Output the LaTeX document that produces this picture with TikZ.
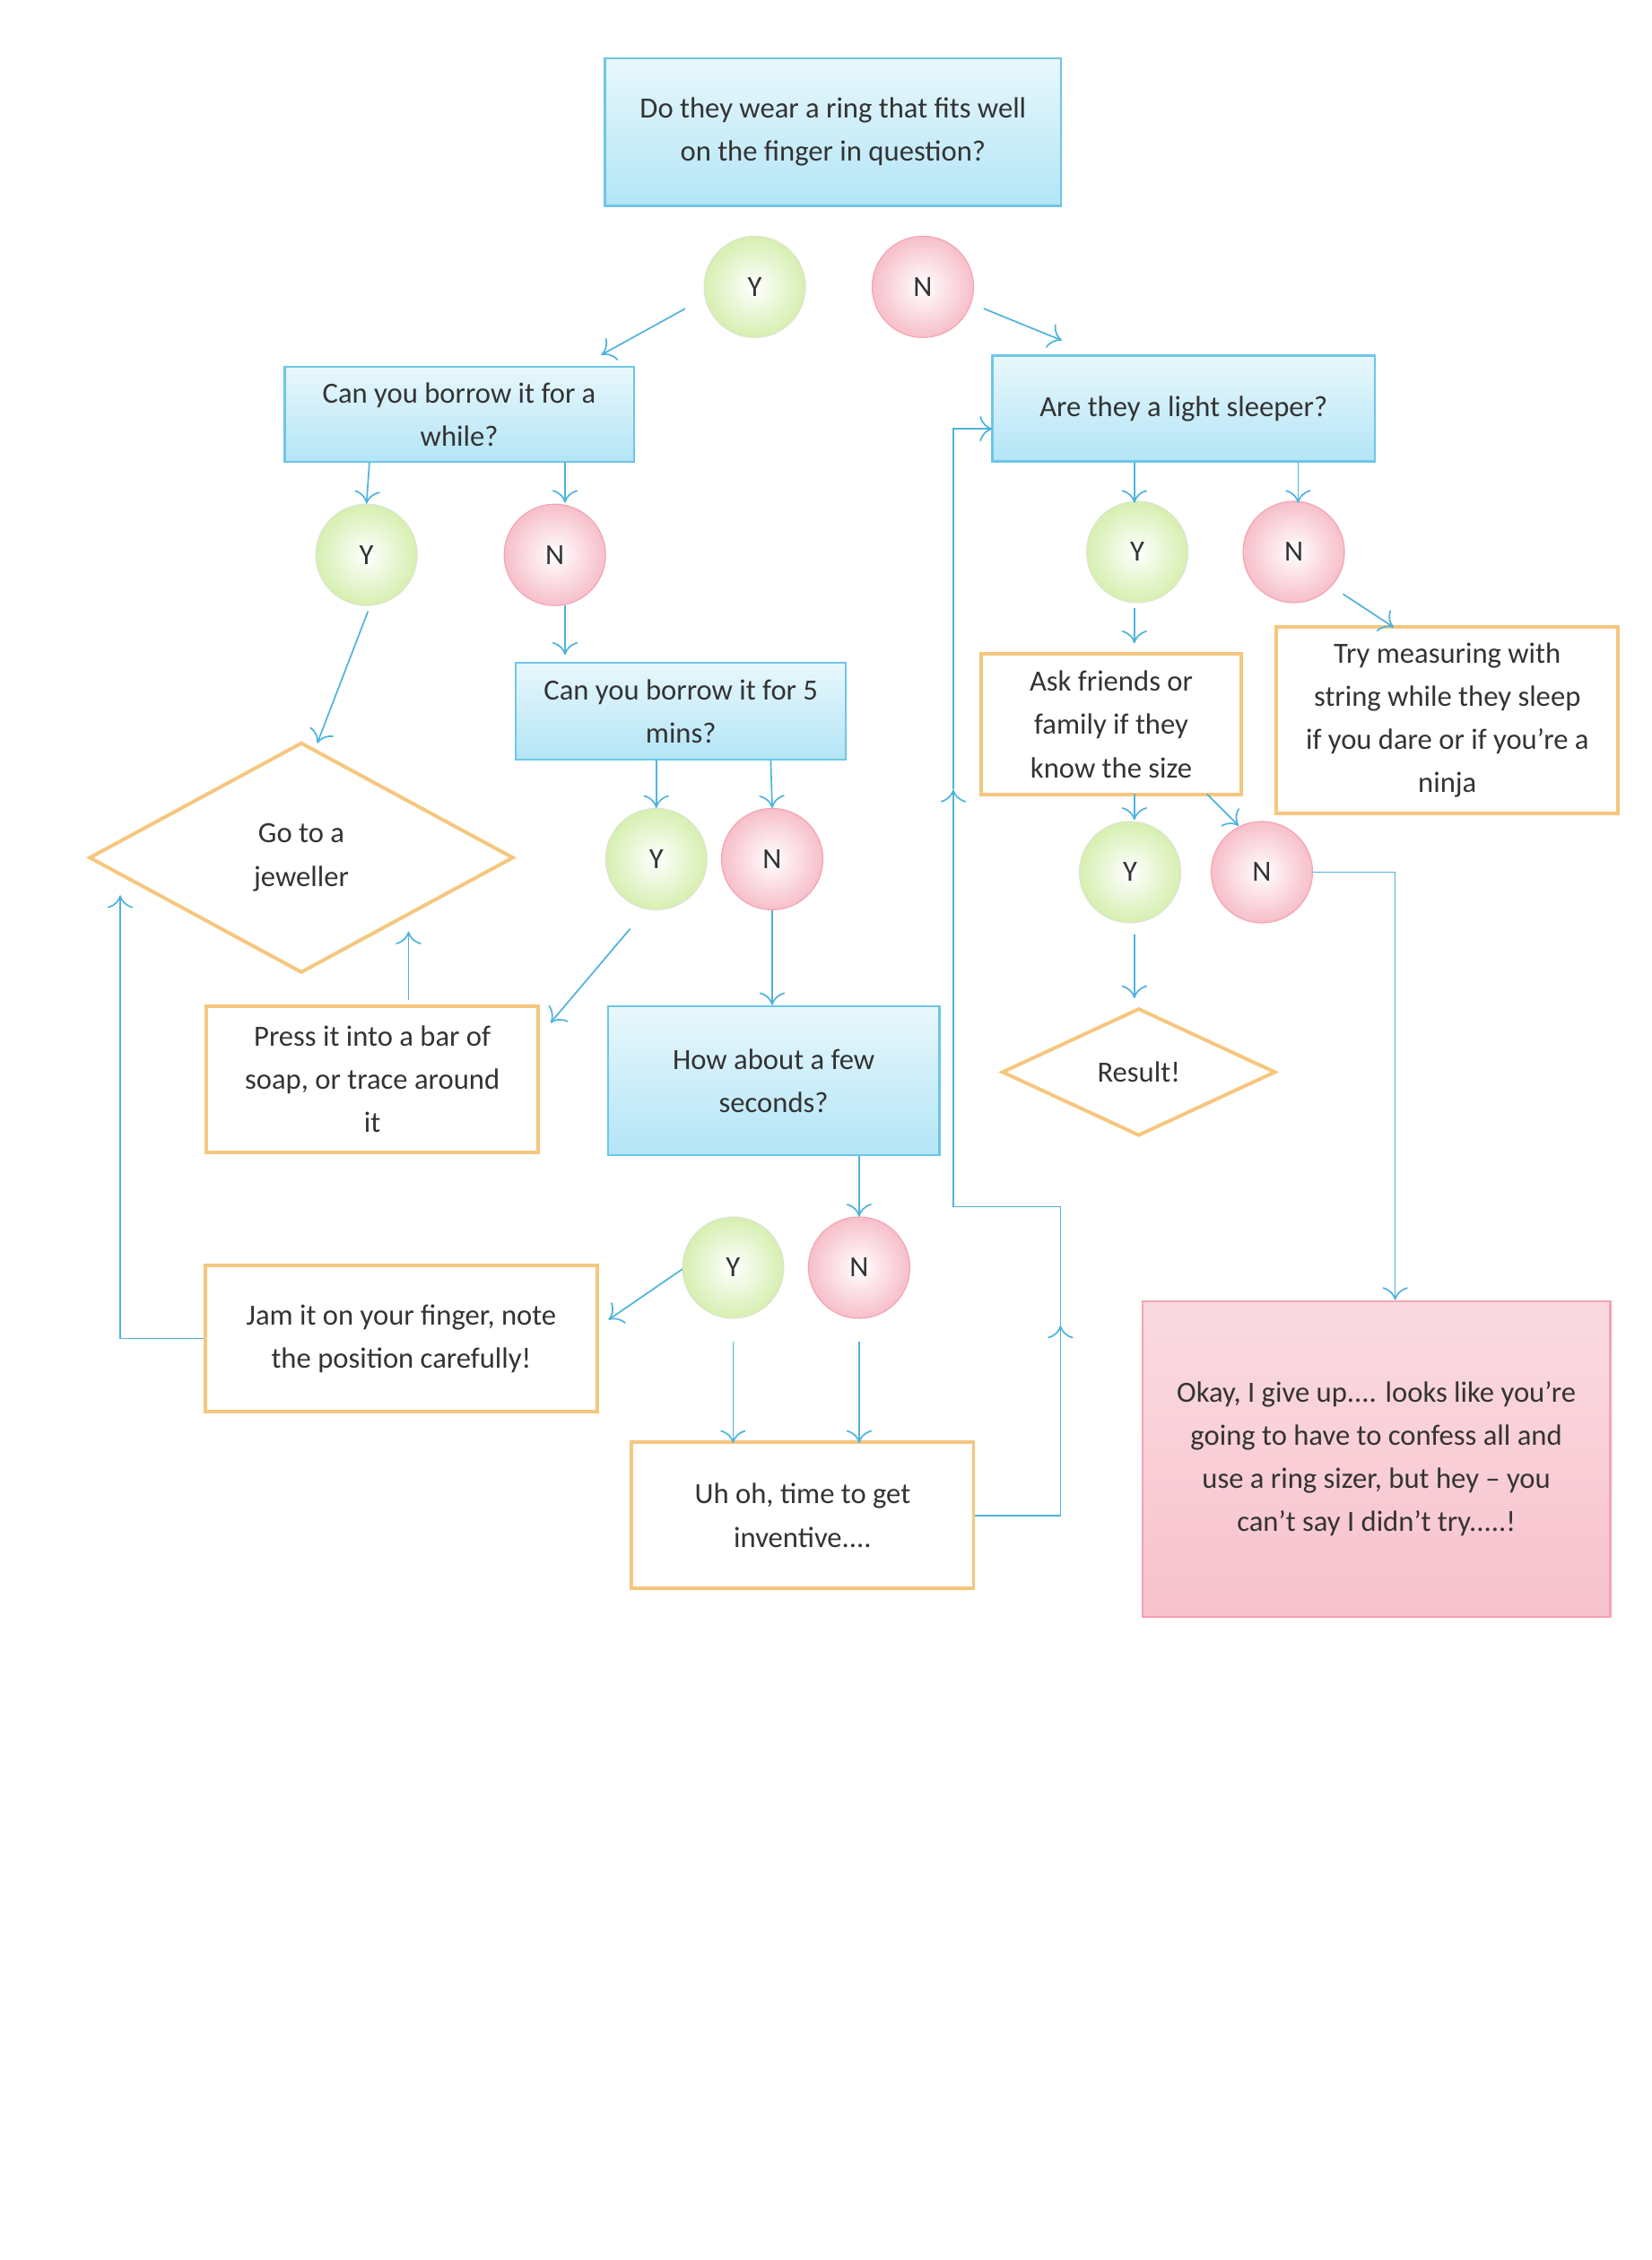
\documentclass[tikz,border=0pt]{standalone}
\usepackage{fontspec}
\setmainfont{Carlito}
\usetikzlibrary{shapes.geometric,arrows.meta}
\definecolor{lineblue}{HTML}{4FB3DD}
\definecolor{boxblue}{HTML}{B3E5F6}
\definecolor{edgeblue}{HTML}{6EC6E8}
\definecolor{boxorange}{HTML}{F5C77E}
\definecolor{yesgreen}{HTML}{D6EFB0}
\definecolor{nored}{HTML}{F3A3B3}
\definecolor{okpink}{HTML}{F7C2CD}
\definecolor{inkgray}{HTML}{333333}
\tikzset{
  bluebox/.style={draw=edgeblue,thick,top color=white!70!boxblue,bottom color=boxblue,align=center,text=inkgray,font=\fontsize{11.5}{17}\selectfont},
  orangebox/.style={draw=boxorange,line width=1.4pt,fill=white,align=center,text=inkgray,font=\fontsize{11.5}{17}\selectfont},
  pinkbox/.style={draw=nored,thick,top color=white!40!okpink,bottom color=okpink,align=center,text=inkgray,font=\fontsize{11.5}{17}\selectfont},
  yes/.style={circle,draw=yesgreen!80!black!40,minimum size=1.4cm,inner color=white,outer color=yesgreen,text=inkgray,font=\fontsize{11.5}{14}\selectfont},
  no/.style={circle,draw=nored,minimum size=1.4cm,inner color=white,outer color=nored!70,text=inkgray,font=\fontsize{11.5}{14}\selectfont},
  jewel/.style={diamond,draw=boxorange,line width=1.4pt,aspect=1.85,align=center,text=inkgray,font=\fontsize{11.5}{17}\selectfont},
  flow/.style={-{To[length=5pt,width=10pt]},lineblue,semithick}
}
\begin{document}
\begin{tikzpicture}[x=0.02cm,y=-0.02cm]
\useasboundingbox (0,0) rectangle (1140,1560);
\fill[white] (0,0) rectangle (1140,1560);
% questions
\node[bluebox,minimum width=6.3cm,minimum height=2.04cm] (ring) at (575,91) {Do they wear a ring that fits well\\on the finger in question?};
\node[bluebox,minimum width=4.82cm,minimum height=1.32cm] (borrow) at (317,286) {Can you borrow it for a\\while?};
\node[bluebox,minimum width=5.28cm,minimum height=1.46cm] (sleeper) at (817,282) {Are they a light sleeper?};
\node[bluebox,minimum width=4.56cm,minimum height=1.34cm] (five) at (470,491) {Can you borrow it for 5\\mins?};
\node[bluebox,minimum width=4.58cm,minimum height=2.06cm] (seconds) at (534,746) {How about a few\\seconds?};
% answers
\node[yes] (y1) at (521,198) {Y};
\node[no] (n1) at (637,198) {N};
\node[yes] (y2) at (253,383) {Y};
\node[no] (n2) at (383,383) {N};
\node[yes] (y3) at (453,593) {Y};
\node[no] (n3) at (533,593) {N};
\node[yes] (y4) at (506,875) {Y};
\node[no] (n4) at (593,875) {N};
\node[yes] (y5) at (785,381) {Y};
\node[no] (n5) at (893,381) {N};
\node[yes] (y6) at (780,602) {Y};
\node[no] (n6) at (871,602) {N};
% outcomes
\node[jewel,minimum width=5.86cm,minimum height=3.18cm,inner sep=0pt] (jeweller) at (208,592) {Go to a\\jeweller};
\node[orangebox,minimum width=4.58cm,minimum height=2.02cm] (press) at (257,745) {Press it into a bar of\\soap, or trace around\\it};
\node[orangebox,minimum width=5.42cm,minimum height=2.02cm] (jam) at (277,924) {Jam it on your finger, note\\the position carefully!};
\node[orangebox,minimum width=4.72cm,minimum height=2.02cm] (inventive) at (554,1046) {Uh oh, time to get\\inventive....};
\node[orangebox,minimum width=3.58cm,minimum height=1.94cm] (ask) at (767,500) {Ask friends or\\family if they\\know the size};
\node[orangebox,minimum width=4.72cm,minimum height=2.58cm] (try) at (999,497) {Try measuring with\\string while they sleep\\if you dare or if you’re a\\ninja};
\node[jewel,minimum width=3.78cm,minimum height=1.76cm,inner sep=0pt] (result) at (786,740) {Result!};
\node[pinkbox,minimum width=6.46cm,minimum height=4.36cm] (okay) at (950,1007) {Okay, I give up.... looks like you’re\\going to have to confess all and\\use a ring sizer, but hey – you\\can’t say I didn’t try.....!};
% connectors
\draw[flow] (473,213) -- (415,245);
\draw[flow] (679,213) -- (733,235);
\draw[flow] (255,319) -- (y2.north);
\draw[flow] (390,319) -- (390,347);
\draw[flow] (390,418) -- (390,452);
\draw[flow] (254,422) -- (219,513);
\draw[flow] (453,525) -- (y3.north);
\draw[flow] (532,525) -- (n3.north);
\draw[flow] (435,641) -- (380,706);
\draw[flow] (n3.south) -- (seconds.north -| n3);
\draw[flow] (282,690) -- (282,643);
\draw[flow] (593,798) -- (n4.north);
\draw[flow] (471,876) -- (420,911);
\draw[flow] (506,926) -- (506,996);
\draw[flow] (593,926) -- (593,996);
\draw[flow] (jam.west) -| (83,618);
\draw[flow] (inventive.east) -| (732,915);
\draw[flow] (732,915) |- (658,833) -- (658,545);
\draw[flow] (658,545) |- (685,296);
\draw[flow] (783,319) -- (783,347);
\draw[flow] (896,319) -- (896,347);
\draw[flow] (927,410) -- (962,433);
\draw[flow] (783,420) -- (783,444);
\draw[flow] (783,548) -- (783,566);
\draw[flow] (833,548) -- (855,570);
\draw[flow] (783,645) -- (783,689);
\draw[flow] (n6.east) -| (okay.north -| 963,0);
\end{tikzpicture}
\end{document}
